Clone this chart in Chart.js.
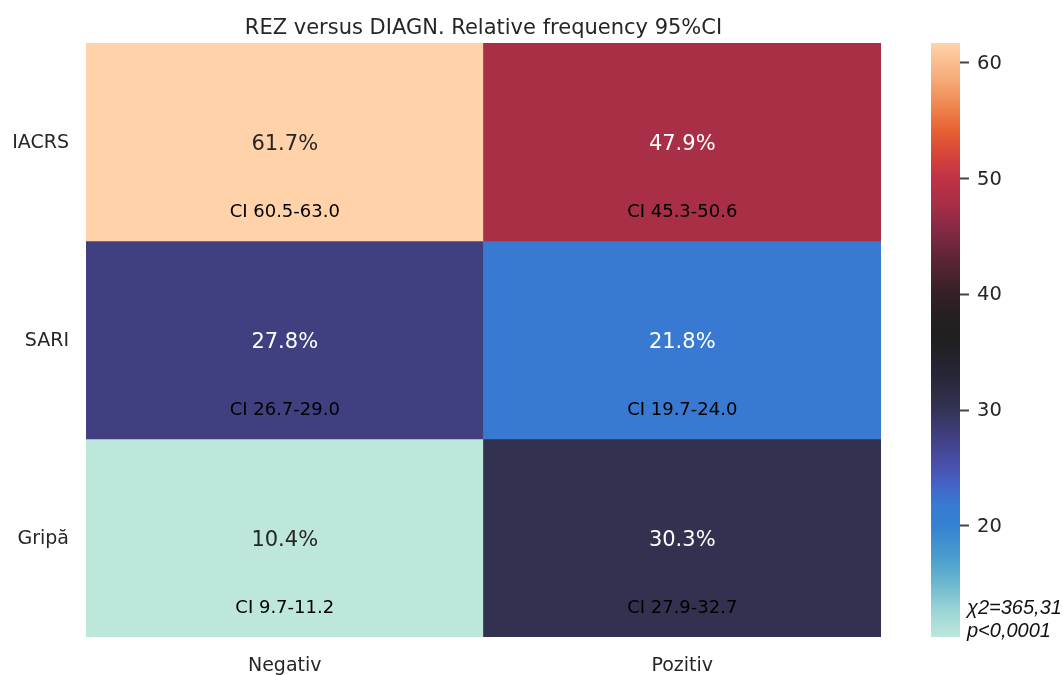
<!DOCTYPE html>
<html>
<head>
<meta charset="utf-8">
<title>REZ versus DIAGN</title>
<script src="https://cdn.jsdelivr.net/npm/chart.js@4.4.1/dist/chart.umd.min.js"></script>
<style>
  html, body { margin: 0; padding: 0; background: #ffffff; }
  #wrap { position: relative; width: 1063px; height: 675px; overflow: hidden; background: #ffffff; }
  #heat { position: absolute; left: 0; top: 0; width: 900px; height: 675px; }
  #cbar { position: absolute; left: 900px; top: 0; width: 163px; height: 675px; }
</style>
</head>
<body>
<div id="wrap">
  <canvas id="heat" width="900" height="675"></canvas>
  <canvas id="cbar" width="163" height="675"></canvas>
</div>
<script>
// Table layout: columns (test result) and rows (diagnosis)
const columns = ['Negativ', 'Pozitiv'];
const rows = ['IACRS', 'SARI', 'Gripă'];

// Relative frequencies, % per cell
const iacrsValues = [61.7, 47.9];
const sariValues = [27.8, 21.8];
const gripaValues = [10.4, 30.3];

// 95% confidence intervals per cell
const iacrsCI = ['60.5-63.0', '45.3-50.6'];
const sariCI = ['26.7-29.0', '19.7-24.0'];
const gripaCI = ['9.7-11.2', '27.9-32.7'];

// Colour bar tick labels and statistics note
const colorbarTicks = [20, 30, 40, 50, 60];
const statsLines = ['χ2=365,31', 'p<0,0001'];

const chartTitle = 'REZ versus DIAGN. Relative frequency 95%CI';

const rowValues = [iacrsValues, sariValues, gripaValues];
const rowCI = [iacrsCI, sariCI, gripaCI];

const allValues = rowValues.flat();
const vmin = Math.min(...allValues);
const vmax = Math.max(...allValues);

// "icefire"-style diverging colour map, stops as [position, r, g, b]
const icefireStops = [
  [0.000, 189, 231, 219],
  [0.041, 158, 214, 214],
  [0.080, 118, 190, 208],
  [0.129, 75, 160, 206],
  [0.187, 53, 130, 208],
  [0.222, 56, 122, 210],
  [0.255, 66, 100, 200],
  [0.285, 74, 82, 176],
  [0.339, 64, 63, 128],
  [0.388, 50, 50, 80],
  [0.441, 38, 38, 56],
  [0.499, 32, 31, 33],
  [0.538, 37, 31, 33],
  [0.577, 52, 32, 38],
  [0.635, 92, 37, 52],
  [0.694, 140, 42, 70],
  [0.731, 168, 47, 69],
  [0.772, 192, 50, 70],
  [0.811, 214, 68, 58],
  [0.850, 230, 95, 50],
  [0.889, 238, 130, 75],
  [0.938, 246, 170, 120],
  [1.000, 255, 210, 170]
];

function cmapRGB(t) {
  t = Math.max(0, Math.min(1, t));
  for (let i = 1; i < icefireStops.length; i++) {
    const a = icefireStops[i - 1], b = icefireStops[i];
    if (t <= b[0]) {
      const f = (t - a[0]) / (b[0] - a[0] || 1);
      return [1, 2, 3].map(k => Math.round(a[k] + (b[k] - a[k]) * f));
    }
  }
  const last = icefireStops[icefireStops.length - 1];
  return [last[1], last[2], last[3]];
}
const rgbStr = c => `rgb(${c[0]},${c[1]},${c[2]})`;
const valueColor = v => rgbStr(cmapRGB((v - vmin) / (vmax - vmin)));

function luminance(c) {
  const lin = c.map(x => {
    x /= 255;
    return x <= 0.03928 ? x / 12.92 : Math.pow((x + 0.055) / 1.055, 2.4);
  });
  return 0.2126 * lin[0] + 0.7152 * lin[1] + 0.0722 * lin[2];
}

const FONT = '"DejaVu Sans", "Liberation Sans", sans-serif';
const TEXT_DARK = '#262626';

// One dataset per row; each cell is a floating bar spanning [row, row + 1]
const datasets = rows.map((name, r) => ({
  label: name,
  data: columns.map(() => [r, r + 1]),
  cellValues: rowValues[r],
  cellCI: rowCI[r],
  backgroundColor: rowValues[r].map(valueColor),
  borderWidth: 0,
  grouped: false,
  barPercentage: 1,
  categoryPercentage: 1
}));

// Cell annotations: percentage in the centre, confidence interval below
const cellLabels = {
  id: 'cellLabels',
  afterDatasetsDraw(chart) {
    const ctx = chart.ctx;
    ctx.save();
    ctx.textAlign = 'center';
    ctx.textBaseline = 'middle';
    chart.data.datasets.forEach((ds, di) => {
      const meta = chart.getDatasetMeta(di);
      meta.data.forEach((bar, ci) => {
        const p = bar.getProps(['x', 'y', 'base'], true);
        const cy = (p.y + p.base) / 2;
        const h = Math.abs(p.base - p.y);
        const v = ds.cellValues[ci];
        const lum = luminance(cmapRGB((v - vmin) / (vmax - vmin)));
        ctx.fillStyle = lum > 0.408 ? TEXT_DARK : '#ffffff';
        ctx.font = `21px ${FONT}`;
        ctx.fillText(v.toFixed(1) + '%', p.x, cy + 2.5);
        ctx.fillStyle = '#000000';
        ctx.font = `18px ${FONT}`;
        ctx.fillText('CI ' + ds.cellCI[ci], p.x, cy + 0.35 * h + 1.5);
      });
    });
    ctx.restore();
  }
};

new Chart(document.getElementById('heat'), {
  type: 'bar',
  data: { labels: columns, datasets },
  options: {
    responsive: false,
    animation: false,
    devicePixelRatio: 1,
    layout: { padding: { left: 0, right: 19, top: 0, bottom: 0 } },
    plugins: {
      legend: { display: false },
      tooltip: { enabled: false },
      title: {
        display: true,
        text: chartTitle,
        fullSize: false,
        color: TEXT_DARK,
        font: { family: FONT, size: 21, weight: 'normal', lineHeight: 1.2 },
        padding: { top: 16, bottom: 1.8 }
      }
    },
    scales: {
      x: {
        type: 'category',
        grid: { display: false, drawTicks: false },
        border: { display: false },
        ticks: { color: TEXT_DARK, font: { family: FONT, size: 19 }, padding: 18, maxRotation: 0 },
        afterFit(scale) { scale.height = 38; }
      },
      y: {
        type: 'linear',
        min: 0,
        max: rows.length,
        reverse: true,
        grid: { display: false, drawTicks: false },
        border: { display: false },
        afterBuildTicks(scale) { scale.ticks = rows.map((_, i) => ({ value: i + 0.5 })); },
        ticks: {
          color: TEXT_DARK,
          font: { family: FONT, size: 19 },
          padding: 17,
          labelOffset: 1,
          callback: v => rows[Math.floor(v)]
        },
        afterFit(scale) { scale.width = 86; }
      }
    }
  },
  plugins: [cellLabels]
});

// Colour bar: one floating bar from vmin to vmax filled with the colour map
function colorbarFill(context) {
  const chart = context.chart;
  const ys = chart.scales.y;
  if (!chart.chartArea || !ys) return rgbStr(cmapRGB(0.5));
  const g = chart.ctx.createLinearGradient(0, ys.getPixelForValue(vmin), 0, ys.getPixelForValue(vmax));
  icefireStops.forEach(s => g.addColorStop(s[0], `rgb(${s[1]},${s[2]},${s[3]})`));
  return g;
}

const statsNote = {
  id: 'statsNote',
  afterDraw(chart) {
    const ctx = chart.ctx;
    ctx.save();
    ctx.fillStyle = '#111111';
    ctx.font = 'italic 20px "Liberation Sans", Arial, sans-serif';
    ctx.textAlign = 'left';
    ctx.textBaseline = 'alphabetic';
    const x = chart.chartArea.right + 7;
    statsLines.forEach((line, i) => ctx.fillText(line, x, 614 + i * 23));
    ctx.restore();
  }
};

new Chart(document.getElementById('cbar'), {
  type: 'bar',
  data: {
    labels: [''],
    datasets: [{
      data: [[vmin, vmax]],
      backgroundColor: colorbarFill,
      borderWidth: 0,
      barPercentage: 1,
      categoryPercentage: 1
    }]
  },
  options: {
    responsive: false,
    animation: false,
    devicePixelRatio: 1,
    layout: { padding: { left: 31, right: 0, top: 43, bottom: 38 } },
    plugins: { legend: { display: false }, tooltip: { enabled: false }, title: { display: false } },
    scales: {
      x: { display: false },
      y: {
        type: 'linear',
        position: 'right',
        min: vmin,
        max: vmax,
        afterBuildTicks(scale) { scale.ticks = colorbarTicks.map(v => ({ value: v })); },
        grid: {
          display: true,
          drawOnChartArea: false,
          drawTicks: true,
          tickLength: 9,
          tickWidth: 2,
          tickColor: '#444444'
        },
        border: { display: false },
        ticks: { color: TEXT_DARK, font: { family: FONT, size: 19.5 }, padding: 8, labelOffset: 1 },
        afterFit(scale) { scale.width = 103; }
      }
    }
  },
  plugins: [statsNote]
});
</script>
</body>
</html>
